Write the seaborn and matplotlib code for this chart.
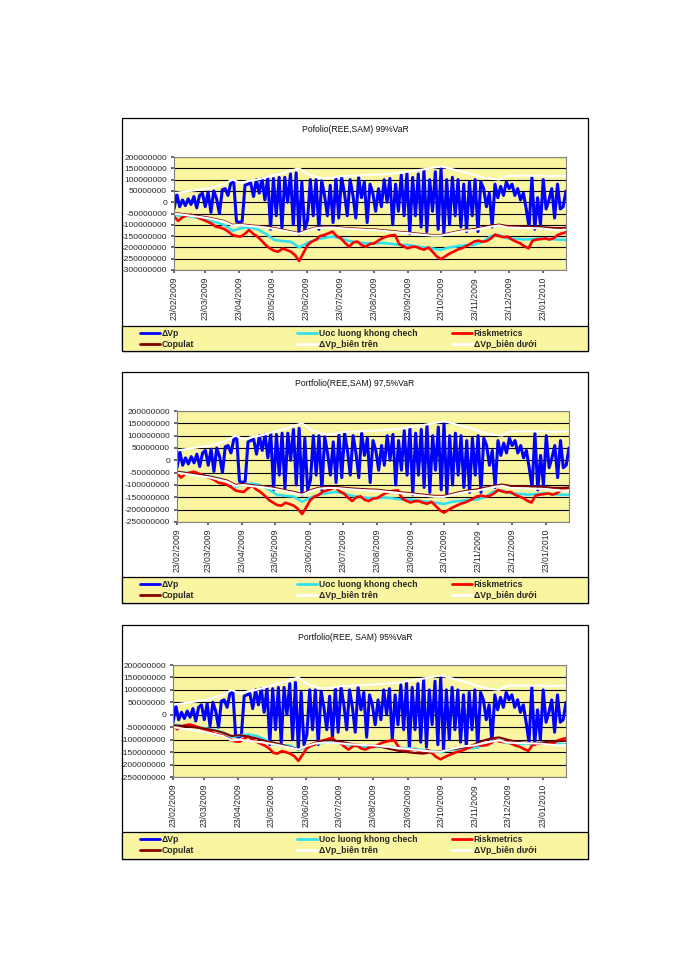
import numpy as np
import pandas as pd
import matplotlib
matplotlib.use("Agg")
import matplotlib.pyplot as plt
import seaborn as sns
from matplotlib.lines import Line2D
from matplotlib.patches import Rectangle

sns.set_theme(style="white")
FAM = ["Liberation Sans", "DejaVu Sans"]
plt.rcParams["font.family"] = FAM

# ---------------- data (values in millions of VND) ----------------
start_date = "2009-02-23"
end_date = "2010-02-13"
x_tick_labels = ["23/02/2009", "23/03/2009", "23/04/2009", "23/05/2009", "23/06/2009",
                 "23/07/2009", "23/08/2009", "23/09/2009", "23/10/2009", "23/11/2009",
                 "23/12/2009", "23/01/2010"]

titles = ["Pofolio(REE,SAM) 99%VaR", "Portfolio(REE,SAM) 97,5%VaR", "Portfolio(REE, SAM) 95%VaR"]
series_names = ["\u0394Vp", "Uoc luong khong chech", "Riskmetrics", "Copulat",
                "\u0394Vp_bi\u00ean tr\u00ean", "\u0394Vp_bi\u00ean d\u01b0\u1edbi"]

y_ticks_99 = [200000000, 150000000, 100000000, 50000000, 0, -50000000, -100000000,
              -150000000, -200000000, -250000000, -300000000]
y_ticks_975 = [200000000, 150000000, 100000000, 50000000, 0, -50000000, -100000000,
               -150000000, -200000000, -250000000]
y_ticks_95 = y_ticks_975

delta_vp = [
    -30, 35, -20, 10, -15, 15, -10, 25, -25, 30, 40,
    -20, 45, -45, 50, 15, -50, 55, 60, 30, 85, 95, -85,
    -90, -85, 75, 80, 85, 25, 100, 40, 105, 10, 110, -120,
    105, -60, 110, -115, 110, 0, 125, -100, 130, -140, 90, -120,
    -80, 100, -60, 100, -120, 95, 30, -60, 75, -90, 105, -70,
    110, 40, -60, 100, 30, -70, 110, 20, 90, -90, 80, 40,
    -40, 60, -20, 100, 0, 105, -100, 80, -40, 120, -60, 130,
    -140, 110, -60, 125, -110, 140, -130, 100, -40, 135, -120, 150,
    -140, 100, -100, 110, -60, 100, -110, 80, -130, 90, -60, 100,
    -130, 90, 60, -20, 40, -110, 80, 20, 70, 30, 90, 60,
    80, 30, 60, 10, 40, -30, -110, 110, -120, 20, -100, 100,
    -30, 10, 60, -70, 80, -30, -20, 50,
]

upper_bound = [
    40, 45, 50, 55, 60, 70, 80, 100, 85, 95, 100, 110,
    120, 128, 140, 150, 125, 112, 105, 108, 115, 116, 118, 120,
    121, 124, 126, 130, 135, 140, 146, 152, 158, 150, 140, 132,
    120, 110, 104, 100, 117, 117, 118, 117, 118, 114, 117, 116,
]
lower_bound = [
    -50, -55, -60, -65, -70, -78, -86, -103, -100, -105, -108, -112,
    -118, -125, -132, -140, -125, -115, -112, -112, -115, -118, -120, -122,
    -123, -127, -130, -134, -137, -141, -145, -148, -148, -140, -132, -126,
    -123, -115, -108, -103, -112, -113, -114, -115, -116, -120, -123, -122,
]

unbiased_99 = [
    -56, -60, -63, -70, -78, -88, -100, -127, -115, -112, -120, -140,
    -167, -172, -175, -200, -180, -165, -158, -152, -160, -172, -178, -182,
    -182, -180, -184, -189, -189, -195, -200, -205, -211, -200, -195, -190,
    -189, -175, -150, -145, -160, -162, -165, -163, -160, -163, -165, -167,
]
riskmetrics_99 = [
    -63, -83, -66, -60, -55, -62, -70, -78,
    -86, -95, -108, -112, -118, -130, -145, -150,
    -152, -140, -123, -140, -152, -170, -190, -204,
    -215, -219, -205, -211, -219, -234, -260, -226,
    -190, -175, -167, -150, -145, -138, -130, -150,
    -160, -180, -197, -178, -174, -190, -197, -185,
    -182, -170, -158, -152, -147, -145, -185, -195,
    -204, -198, -197, -205, -210, -200, -219, -240,
    -252, -240, -228, -219, -210, -204, -195, -185,
    -174, -170, -175, -172, -160, -143, -150, -155,
    -152, -165, -174, -182, -195, -204, -170, -165,
    -163, -160, -165, -160, -145, -138, -133,
]
copula_99 = [
    -47, -52, -57, -62, -67, -75, -83, -100, -97, -102, -105, -109,
    -115, -122, -129, -137, -122, -112, -109, -109, -112, -115, -117, -119,
    -120, -124, -127, -131, -134, -138, -142, -145, -145, -137, -129, -123,
    -119, -111, -104, -99, -106, -107, -108, -109, -110, -113, -115, -113,
]

unbiased_975 = [
    -47, -50, -53, -59, -66, -74, -84, -107, -97, -94, -101, -118,
    -140, -144, -147, -168, -151, -139, -133, -128, -134, -144, -150, -153,
    -153, -151, -155, -159, -159, -164, -168, -172, -177, -168, -164, -160,
    -159, -147, -126, -122, -134, -136, -139, -137, -134, -137, -139, -140,
]
riskmetrics_975 = [
    -53, -70, -55, -50, -46, -52, -59, -66,
    -72, -80, -91, -94, -99, -109, -122, -126,
    -128, -113, -103, -118, -128, -143, -160, -171,
    -181, -184, -172, -177, -184, -197, -218, -190,
    -160, -147, -140, -126, -122, -116, -109, -126,
    -134, -151, -165, -150, -146, -160, -165, -155,
    -153, -143, -133, -128, -123, -122, -155, -164,
    -171, -166, -165, -172, -176, -168, -184, -202,
    -212, -202, -192, -184, -176, -171, -164, -155,
    -146, -143, -147, -144, -134, -120, -126, -130,
    -128, -139, -146, -153, -164, -171, -143, -139,
    -137, -134, -139, -134, -122, -116, -112,
]
copula_975 = [
    -46, -51, -56, -61, -66, -74, -82, -99, -96, -101, -104, -108,
    -114, -121, -128, -136, -121, -111, -108, -108, -111, -114, -116, -118,
    -119, -123, -126, -130, -133, -137, -141, -144, -144, -136, -128, -122,
    -118, -110, -103, -98, -104, -105, -106, -107, -108, -111, -112, -110,
]

unbiased_95 = [
    -40, -43, -45, -50, -55, -62, -71, -90, -82, -80, -85, -99,
    -119, -122, -124, -142, -128, -117, -112, -108, -114, -122, -126, -129,
    -129, -128, -131, -134, -134, -138, -142, -146, -150, -142, -138, -135,
    -134, -124, -107, -103, -114, -115, -117, -116, -114, -116, -117, -119,
]
riskmetrics_95 = [
    -45, -58, -47, -42, -39, -44, -50, -55,
    -61, -67, -77, -80, -84, -92, -103, -107,
    -108, -96, -87, -100, -108, -117, -124, -135,
    -153, -156, -146, -150, -156, -166, -185, -160,
    -135, -124, -119, -107, -103, -98, -92, -107,
    -114, -128, -140, -126, -124, -135, -140, -131,
    -129, -121, -112, -108, -104, -103, -131, -138,
    -145, -141, -140, -146, -149, -142, -155, -170,
    -179, -170, -162, -155, -149, -145, -138, -131,
    -124, -121, -124, -122, -114, -102, -107, -110,
    -108, -117, -124, -129, -138, -145, -121, -117,
    -116, -114, -117, -114, -103, -98, -94,
]
copula_95 = [
    -42, -45, -48, -52, -57, -63, -72, -85, -82, -88, -95, -105,
    -112, -120, -130, -140, -125, -112, -104, -102, -108, -115, -120, -122,
    -124, -130, -138, -145, -150, -154, -156, -150, -146, -140, -136, -130,
    -120, -105, -95, -91, -100, -108, -112, -115, -112, -108, -106, -105,
]

# ---------------- styling ----------------
W, H = 700, 960
YELLOW = "#FAF5A0"
COLORS = ["#0000FF", "#33E0F0", "#FF0000", "#800000", "#FFFFFF", "#FFFFFF"]
WIDTHS = [2.2, 1.9, 1.9, 1.5, 1.5, 1.5]
MILLION = 1_000_000


def fx(x):
    return x / W


def fy(y):
    return 1 - y / H


def dates_for(values):
    return pd.date_range(start_date, end_date, periods=len(values))


panels = [
    dict(title=titles[0], box=(118, 351), plot=(174, 157, 566, 270), strip=326,
         ylim=(-300, 200), yticks=y_ticks_99,
         series=[delta_vp, unbiased_99, riskmetrics_99, copula_99, upper_bound, lower_bound]),
    dict(title=titles[1], box=(372, 603), plot=(177, 411, 569, 522), strip=577,
         ylim=(-250, 200), yticks=y_ticks_975,
         series=[delta_vp, unbiased_975, riskmetrics_975, copula_975, upper_bound, lower_bound]),
    dict(title=titles[2], box=(625, 859), plot=(173, 665, 566, 777), strip=832,
         ylim=(-250, 200), yticks=y_ticks_95,
         series=[delta_vp, unbiased_95, riskmetrics_95, copula_95, upper_bound, lower_bound]),
]

fig = plt.figure(figsize=(W / 100, H / 100), dpi=100)
fig.patch.set_facecolor("white")

tick_dates = pd.to_datetime(x_tick_labels, format="%d/%m/%Y")
BOX_L, BOX_R = 122, 588

for p in panels:
    top, bot = p["box"]
    # outer frame
    fig.patches.append(Rectangle((fx(BOX_L), fy(bot)), (BOX_R - BOX_L) / W, (bot - top) / H,
                                 transform=fig.transFigure, fill=False,
                                 edgecolor="black", lw=0.9, zorder=0))
    # legend strip
    fig.patches.append(Rectangle((fx(BOX_L), fy(bot)), (BOX_R - BOX_L) / W, (bot - p["strip"]) / H,
                                 transform=fig.transFigure, facecolor=YELLOW,
                                 edgecolor="black", lw=0.9, zorder=1))
    fig.text(fx(355), fy(top + 12), p["title"], ha="center", va="center", fontsize=6.2,
             family=FAM, color="#111111")

    l, t, r, b = p["plot"]
    ax = fig.add_axes([fx(l), fy(b), (r - l) / W, (b - t) / H])
    ax.set_zorder(3)
    ax.set_facecolor(YELLOW)
    ax.set_axisbelow(True)

    for vals, c, lw in zip(p["series"], COLORS, WIDTHS):
        arr = np.asarray(vals, dtype=float) * MILLION
        sns.lineplot(x=dates_for(vals), y=arr, ax=ax, color=c, lw=lw, legend=False,
                     estimator=None, sort=False)

    ax.set_xlim(pd.Timestamp(start_date), pd.Timestamp(end_date))
    ax.set_ylim(p["ylim"][0] * MILLION, p["ylim"][1] * MILLION)
    ax.set_yticks(p["yticks"])
    ax.set_yticklabels([f"{v:d}" for v in p["yticks"]])
    ax.set_xticks(tick_dates)
    ax.set_xticklabels(x_tick_labels, rotation=90, va="top", ha="center")
    ax.set_xlabel("")
    ax.set_ylabel("")
    ax.yaxis.grid(True, color="black", lw=0.8)
    ax.xaxis.grid(False)
    ax.tick_params(axis="y", labelsize=6.0, pad=3, length=2, color="#555555", left=True)
    ax.tick_params(axis="x", labelsize=6.2, pad=3, length=2, color="#555555", bottom=True)
    for s in ax.spines.values():
        s.set_color("#808080")
        s.set_linewidth(0.8)

    # legend in three columns
    handles = [Line2D([], [], color=c, lw=2.0) for c in COLORS]
    cols = [(140, [0, 3]), (297, [1, 4]), (452, [2, 5])]
    for x0, idx in cols:
        leg = fig.legend([handles[i] for i in idx], [series_names[i] for i in idx],
                         loc="upper left", bbox_to_anchor=(fx(x0), fy(p["strip"] + 3)),
                         bbox_transform=fig.transFigure, frameon=False,
                         prop={"size": 6.2, "weight": "bold", "family": FAM},
                         handlelength=2.3, handletextpad=0.2, labelspacing=0.2,
                         borderpad=0, borderaxespad=0)
        leg.set_zorder(5)

fig.savefig("out.png", dpi=100, facecolor="white")
